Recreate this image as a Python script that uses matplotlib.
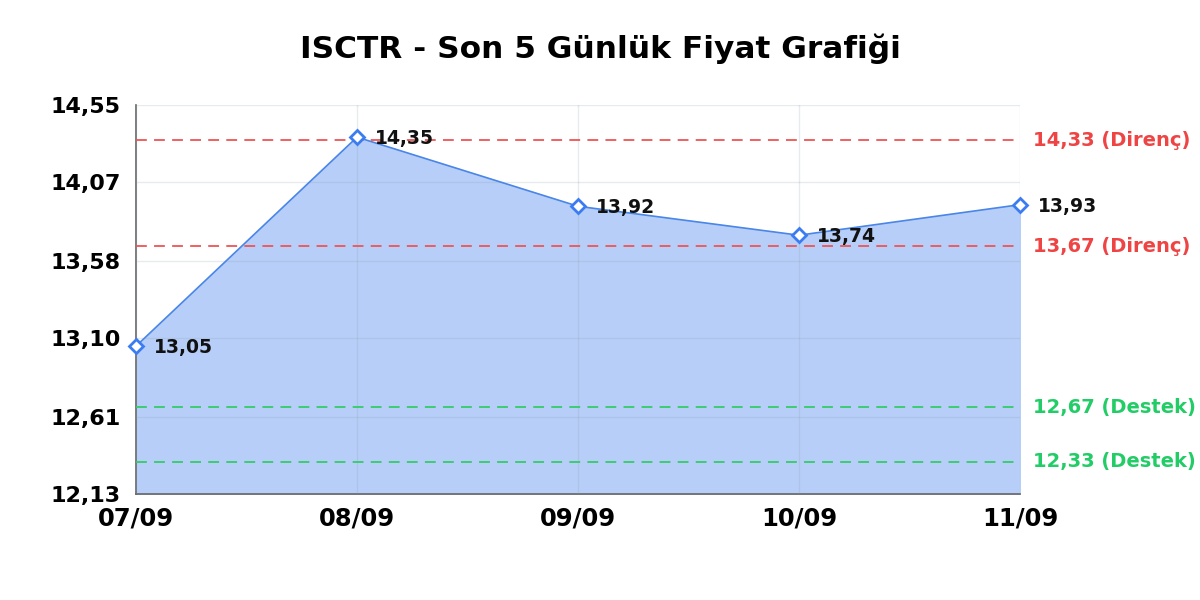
import matplotlib
matplotlib.use("Agg")
import matplotlib.pyplot as plt
import numpy as np

# chart data
dates = ["07/09", "08/09", "09/09", "10/09", "11/09"]
prices = [13.05, 14.35, 13.92, 13.74, 13.93]
yticks = [12.13, 12.61, 13.10, 13.58, 14.07, 14.55]
resistance = [14.33, 13.67]
support = [12.67, 12.33]

plt.rcParams['font.family'] = ['DejaVu Sans']

fig = plt.figure(figsize=(12, 6), dpi=100)
ax = fig.add_axes([136/1200, 1 - 494/600, (1020-136)/1200, (494-105)/600])

x = np.arange(len(dates))
ax.fill_between(x, prices, yticks[0], color='#b7cff8', zorder=1)
ax.plot(x, prices, color='#4a86e8', lw=1.2, zorder=3)
ax.plot(x, prices, ls='none', marker='D', ms=7, mfc='white', mec='#3b7cf0',
        mew=2, zorder=5, clip_on=False)

for xi, p in zip(x, prices):
    ax.annotate(f"{p:.2f}".replace('.', ','), (xi, p), xytext=(13, -1),
                textcoords='offset points', ha='left', va='center',
                fontsize=13.5, fontweight='bold', color='#111111', zorder=6)

# support / resistance
for r in resistance:
    ax.axhline(r, color='#ee5555', ls=(0, (6, 4)), lw=1.3, zorder=4)
    ax.text(1.015, r, f"{r:.2f} (Direnç)".replace('.', ','), transform=ax.get_yaxis_transform(),
            color='#ee4444', fontsize=14, fontweight='bold', va='center', ha='left')
for s in support:
    ax.axhline(s, color='#33cc66', ls=(0, (6, 4)), lw=1.3, zorder=4)
    ax.text(1.015, s, f"{s:.2f} (Destek)".replace('.', ','), transform=ax.get_yaxis_transform(),
            color='#22cc66', fontsize=14, fontweight='bold', va='center', ha='left')

ax.set_xlim(0, len(dates) - 1)
ax.set_ylim(yticks[0], yticks[-1])
ax.set_xticks(x)
ax.set_xticklabels(dates, fontsize=17.5, fontweight='bold')
ax.set_yticks(yticks)
ax.set_yticklabels([f"{t:.2f}".replace('.', ',') for t in yticks], fontsize=16, fontweight='bold')
ax.tick_params(axis='x', length=0, pad=9)
ax.tick_params(axis='y', length=0, pad=11)

ax.grid(True, color='#8899aa', alpha=0.2, lw=1, zorder=2)
ax.set_axisbelow(False)
for s in ['top', 'right']:
    ax.spines[s].set_visible(False)
ax.spines['left'].set_color('#666666')
ax.spines['bottom'].set_color('#666666')
ax.spines['left'].set_linewidth(1.2)
ax.spines['bottom'].set_linewidth(1.2)

fig.suptitle("ISCTR - Son 5 Günlük Fiyat Grafiği", fontsize=22.5, fontweight='bold',
             y=1 - 49/600, va='center')

fig.savefig("out.png", dpi=100)
